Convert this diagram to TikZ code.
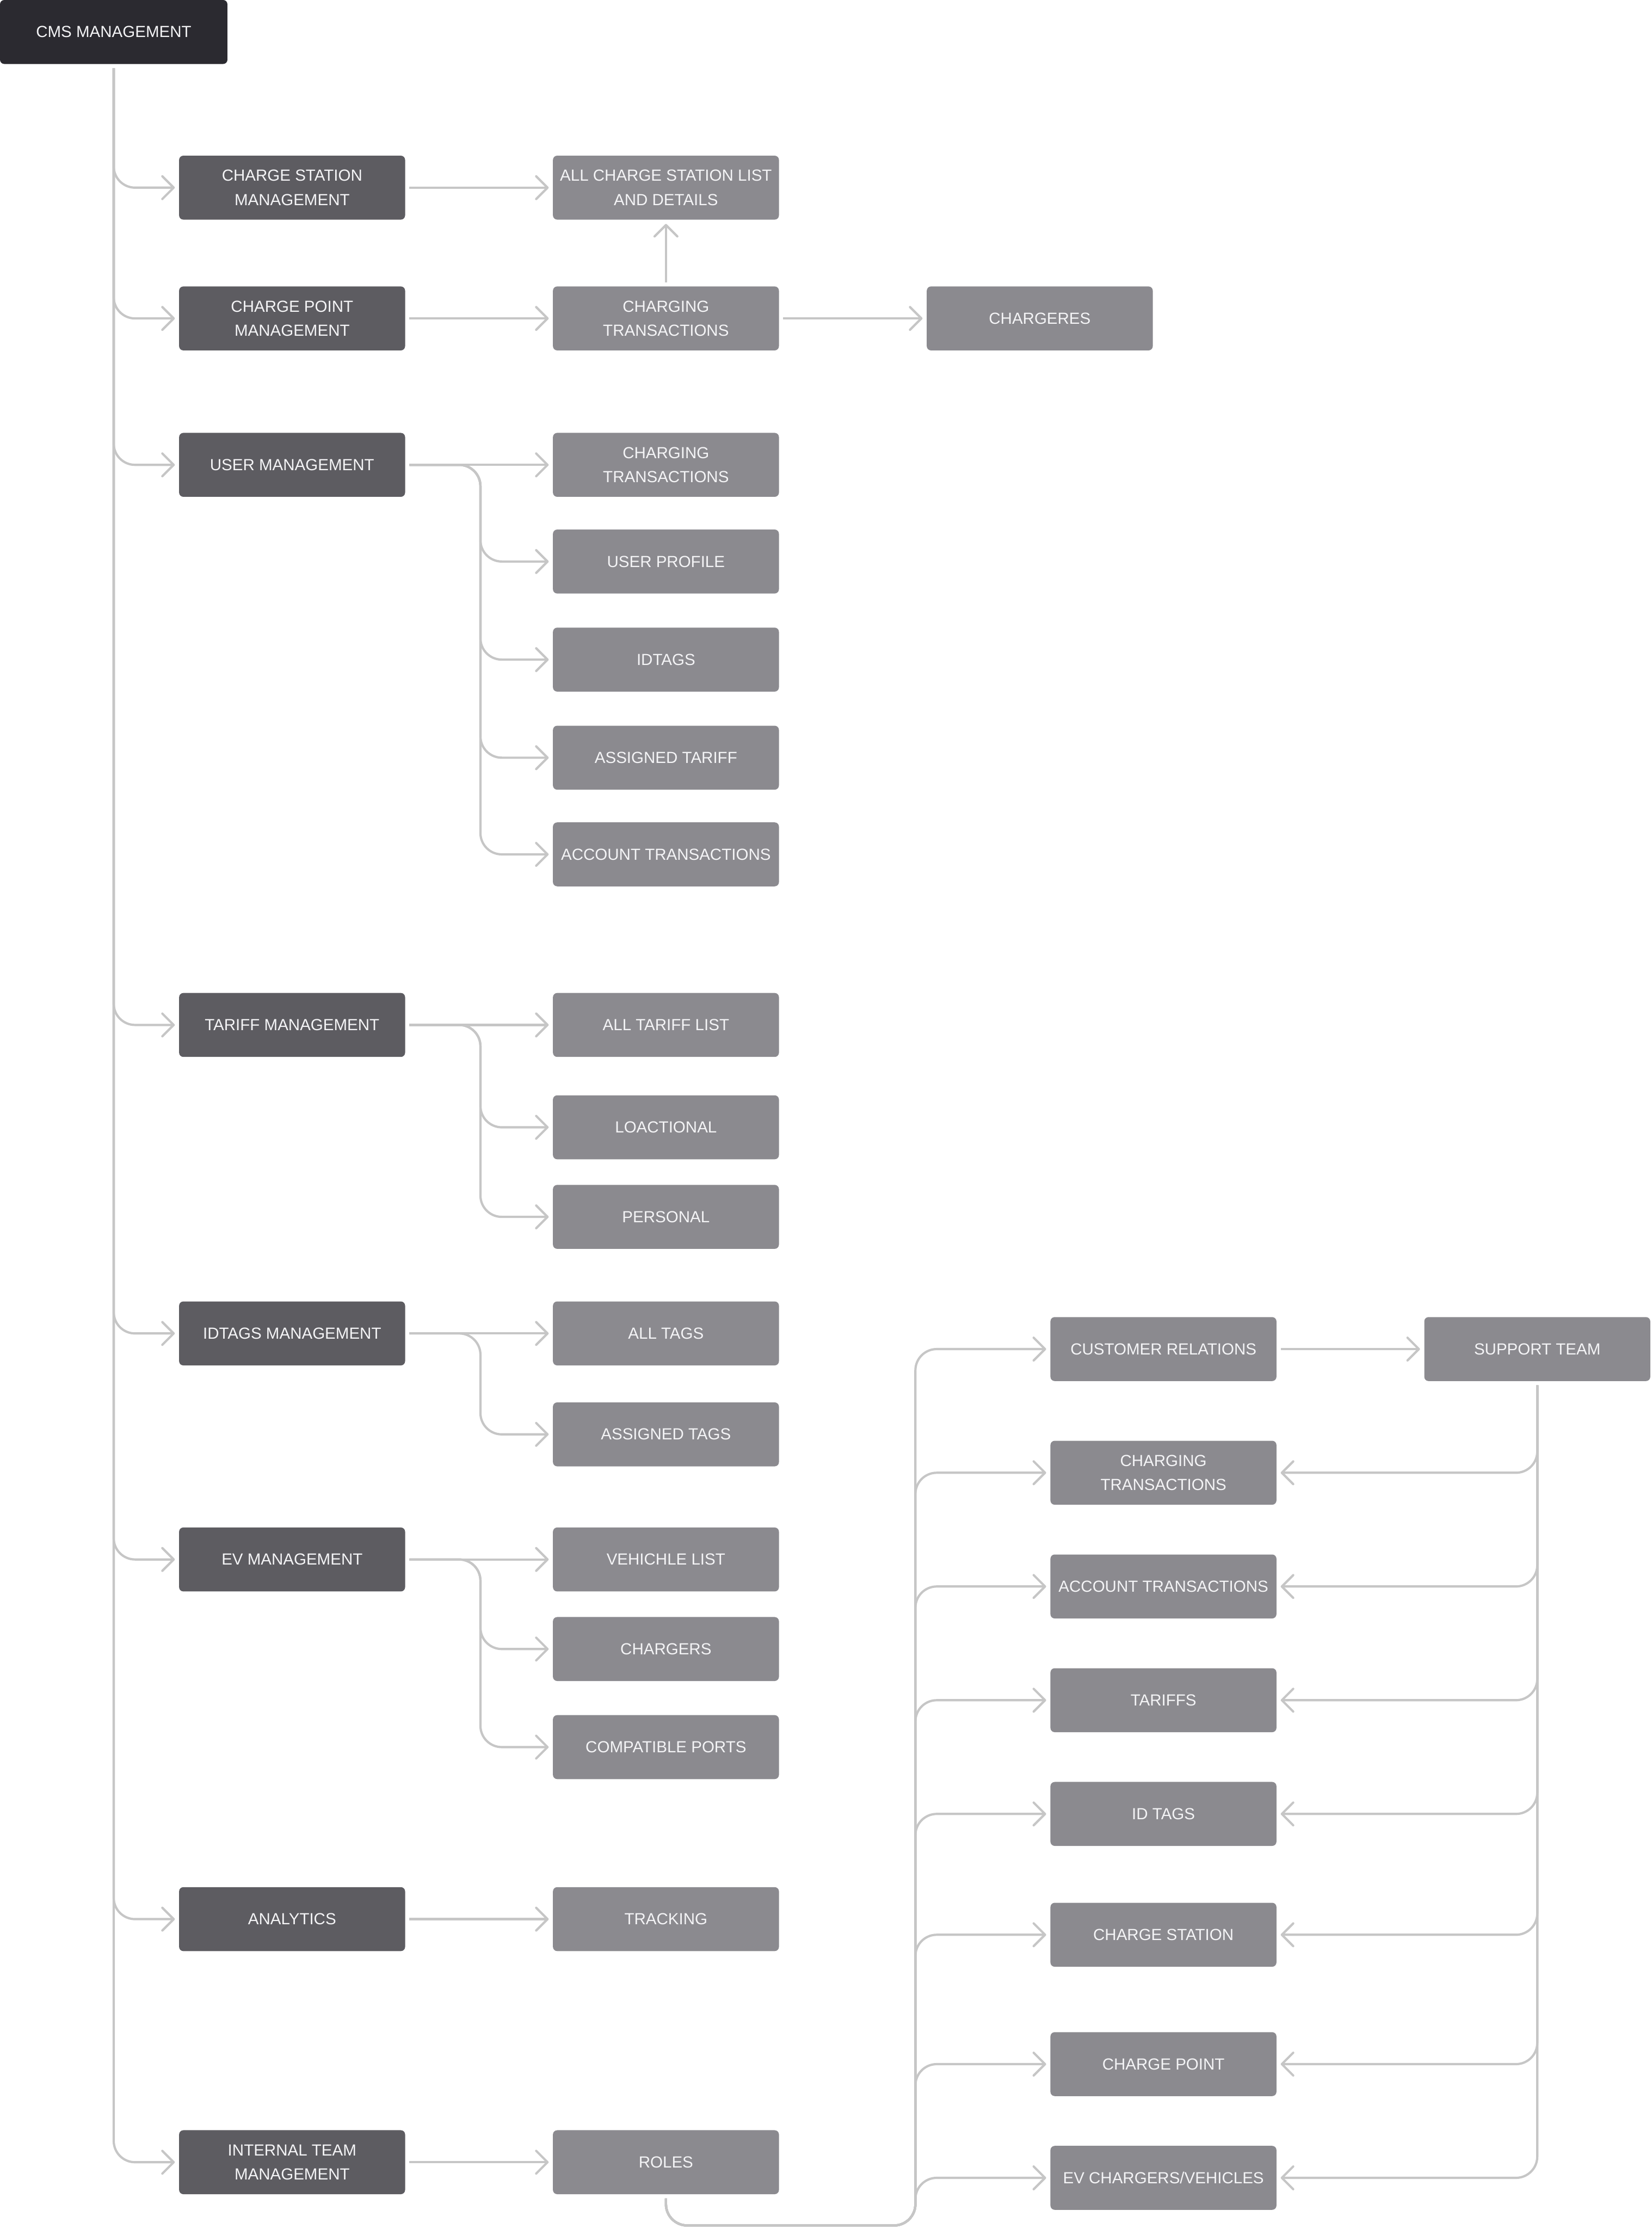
\documentclass[tikz,border=0pt]{standalone}
\usepackage{fontspec}
\setmainfont{Liberation Sans}
\usetikzlibrary{arrows.meta}
\definecolor{rootc}{HTML}{2B2A30}
\definecolor{lvone}{HTML}{5D5C61}
\definecolor{lvtwo}{HTML}{8B8A8F}
\definecolor{connc}{HTML}{C6C6C6}
\definecolor{txtc}{HTML}{F4F4F6}
\begin{document}
\begin{tikzpicture}[x=1pt,y=-1pt,
  box/.style={rectangle, rounded corners=3pt, minimum width=159pt, minimum height=45pt,
    inner sep=0pt, outer sep=0pt, text=txtc, align=center,
    font=\fontsize{11.3}{17}\selectfont},
  rootbox/.style={box, fill=rootc, minimum width=160pt},
  onebox/.style={box, fill=lvone},
  twobox/.style={box, fill=lvtwo},
  conn/.style={draw=connc, line width=1.6pt, rounded corners=15pt,
    shorten <=3pt, shorten >=3pt,
    -{Straight Barb[length=8pt,width=16pt,round]}}
]
\useasboundingbox (0,0) rectangle (1162,1568);

% root
\node[rootbox] (root) at (80,22.5) {CMS MANAGEMENT};

% level one
\node[onebox] (csm) at (205.5,132) {CHARGE STATION\\MANAGEMENT};
\node[onebox] (cpm) at (205.5,224) {CHARGE POINT\\MANAGEMENT};
\node[onebox] (um)  at (205.5,327) {USER MANAGEMENT};
\node[onebox] (tm)  at (205.5,721) {TARIFF MANAGEMENT};
\node[onebox] (im)  at (205.5,938) {IDTAGS MANAGEMENT};
\node[onebox] (evm) at (205.5,1097) {EV MANAGEMENT};
\node[onebox] (an)  at (205.5,1350) {ANALYTICS};
\node[onebox] (itm) at (205.5,1521) {INTERNAL TEAM\\MANAGEMENT};

% level two
\node[twobox] (acs) at (468.5,132) {ALL CHARGE STATION LIST\\AND DETAILS};
\node[twobox] (cta) at (468.5,224) {CHARGING\\TRANSACTIONS};
\node[twobox] (chg) at (731.5,224) {CHARGERES};

\node[twobox] (ctb) at (468.5,327) {CHARGING\\TRANSACTIONS};
\node[twobox] (up)  at (468.5,395) {USER PROFILE};
\node[twobox] (idt) at (468.5,464) {IDTAGS};
\node[twobox] (ast) at (468.5,533) {ASSIGNED TARIFF};
\node[twobox] (ata) at (468.5,601) {ACCOUNT TRANSACTIONS};

\node[twobox] (atl) at (468.5,721) {ALL TARIFF LIST};
\node[twobox] (loc) at (468.5,793) {LOACTIONAL};
\node[twobox] (per) at (468.5,856) {PERSONAL};

\node[twobox] (alt) at (468.5,938) {ALL TAGS};
\node[twobox] (asg) at (468.5,1009) {ASSIGNED TAGS};

\node[twobox] (vl)  at (468.5,1097) {VEHICHLE LIST};
\node[twobox] (chs) at (468.5,1160) {CHARGERS};
\node[twobox] (cp)  at (468.5,1229) {COMPATIBLE PORTS};

\node[twobox] (trk) at (468.5,1350) {TRACKING};
\node[twobox] (rol) at (468.5,1521) {ROLES};

% right cluster
\node[twobox] (cr)  at (818.5,949) {CUSTOMER RELATIONS};
\node[twobox] (st)  at (1081.5,949) {SUPPORT TEAM};
\node[twobox] (rct) at (818.5,1036) {CHARGING\\TRANSACTIONS};
\node[twobox] (rat) at (818.5,1116) {ACCOUNT TRANSACTIONS};
\node[twobox] (rtf) at (818.5,1196) {TARIFFS};
\node[twobox] (rid) at (818.5,1276) {ID TAGS};
\node[twobox] (rcs) at (818.5,1361) {CHARGE STATION};
\node[twobox] (rcp) at (818.5,1452) {CHARGE POINT};
\node[twobox] (rev) at (818.5,1532) {EV CHARGERS/VEHICLES};

% trunk
\foreach \n in {csm,cpm,um,tm,im,evm,an,itm}
  \draw[conn] (root.south) |- (\n.west);

% simple links
\draw[conn] (csm.east) -- (acs.west);
\draw[conn] (cpm.east) -- (cta.west);
\draw[conn] (cta.north) -- (acs.south);
\draw[conn] (cta.east) -- (chg.west);
\draw[conn] (an.east) -- (trk.west);
\draw[conn] (itm.east) -- (rol.west);
\draw[conn] (cr.east) -- (st.west);

% user management
\draw[conn] (um.east) -- (ctb.west);
\foreach \n in {up,idt,ast,ata}
  \draw[conn] (um.east) -- ++(53,0) |- (\n.west);

% tariff management
\draw[conn] (tm.east) -- (atl.west);
\foreach \n in {loc,per}
  \draw[conn] (tm.east) -- ++(53,0) |- (\n.west);

% idtags management
\draw[conn] (im.east) -- (alt.west);
\draw[conn] (im.east) -- ++(53,0) |- (asg.west);

% ev management
\draw[conn] (evm.east) -- (vl.west);
\foreach \n in {chs,cp}
  \draw[conn] (evm.east) -- ++(53,0) |- (\n.west);

% support team fan
\foreach \n in {rct,rat,rtf,rid,rcs,rcp,rev}
  \draw[conn] (st.south) |- (\n.east);

% roles fan
\foreach \n in {cr,rct,rat,rtf,rid,rcs,rcp,rev}
  \draw[conn] (rol.south) -- ++(0,22) -- ++(175.5,0) |- (\n.west);

\end{tikzpicture}
\end{document}
